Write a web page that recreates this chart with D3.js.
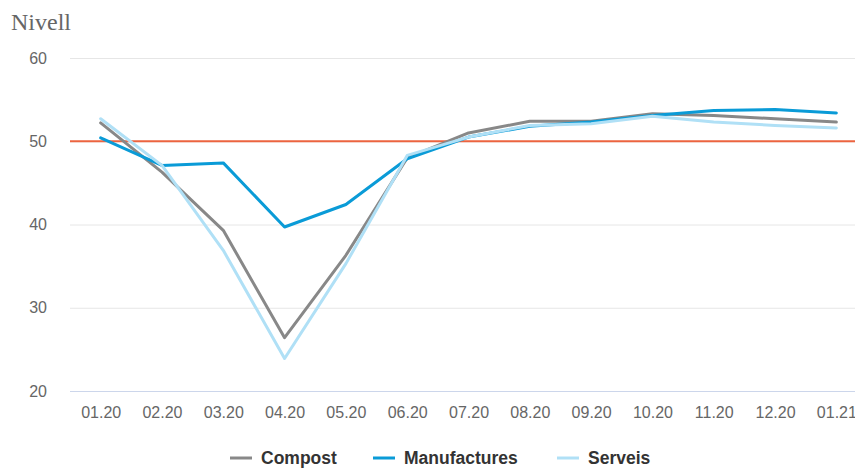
<!DOCTYPE html>
<html>
<head>
<meta charset="utf-8">
<script src="https://cdn.jsdelivr.net/npm/d3@7"></script>
<style>
  html, body { margin: 0; padding: 0; background: #fff; overflow: hidden; }
  svg { display: block; }
</style>
</head>
<body>
<svg id="chart" width="855" height="468"></svg>
<script>
// Monthly index levels (50 = neutral threshold)
const months = ["01.20","02.20","03.20","04.20","05.20","06.20","07.20","08.20","09.20","10.20","11.20","12.20","01.21"];
const compost      = [52.2, 46.3, 39.3, 26.4, 36.3, 48.0, 51.0, 52.4, 52.4, 53.3, 53.1, 52.7, 52.3];
const manufactures = [50.4, 47.1, 47.4, 39.7, 42.4, 47.9, 50.5, 51.8, 52.3, 53.1, 53.7, 53.8, 53.4];
const serveis      = [52.7, 47.1, 36.9, 23.9, 35.3, 48.3, 50.5, 51.9, 52.1, 53.0, 52.3, 51.9, 51.6];
const yTicks = [20, 30, 40, 50, 60];
const threshold = 50;

const seriesList = [
  { name: "Compost",      values: compost,      color: "#888888" },
  { name: "Manufactures", values: manufactures, color: "#0a9bd7" },
  { name: "Serveis",      values: serveis,      color: "#b0e0f6" }
];

const svg = d3.select("#chart");
const plotLeft = 70, plotRight = 867, plotTop = 58, plotBottom = 391;
const sans = "'Liberation Sans', Arial, sans-serif";

const x = d3.scalePoint().domain(months).range([plotLeft, plotRight]).padding(0.5);
const y = d3.scaleLinear().domain([20, 60]).range([plotBottom, plotTop]);

// Title
svg.append("text")
  .attr("x", 11).attr("y", 30)
  .attr("font-family", "'Liberation Serif', 'DejaVu Serif', serif")
  .attr("font-size", 24)
  .attr("fill", "#666")
  .text("Nivell");

// Horizontal grid
svg.append("g").selectAll("line")
  .data(yTicks)
  .join("line")
  .attr("x1", plotLeft).attr("x2", 855)
  .attr("y1", d => y(d) + 0.5).attr("y2", d => y(d) + 0.5)
  .attr("stroke", d => d === 20 ? "#ccd6eb" : "#e6e6e6")
  .attr("stroke-width", 1);

// Y axis labels
const yAxis = svg.append("g")
  .attr("transform", `translate(${47},0)`)
  .call(d3.axisLeft(y).tickValues(yTicks).tickSize(0).tickPadding(0));
yAxis.select(".domain").remove();
yAxis.selectAll("text")
  .attr("font-family", sans)
  .attr("font-size", 16)
  .attr("fill", "#666");

// X axis labels
const xAxis = svg.append("g")
  .attr("transform", `translate(0,${plotBottom})`)
  .call(d3.axisBottom(x).tickSize(0).tickPadding(16));
xAxis.select(".domain").remove();
xAxis.selectAll("text")
  .attr("font-family", sans)
  .attr("font-size", 16)
  .attr("fill", "#666");

// Threshold line at 50
svg.append("line")
  .attr("x1", plotLeft).attr("x2", 855)
  .attr("y1", y(threshold)).attr("y2", y(threshold))
  .attr("stroke", "#ec6440")
  .attr("stroke-width", 2);

// Series lines
const line = d3.line()
  .x((d, i) => x(months[i]))
  .y(d => y(d));

svg.append("g").selectAll("path")
  .data(seriesList)
  .join("path")
  .attr("d", s => line(s.values))
  .attr("fill", "none")
  .attr("stroke", s => s.color)
  .attr("stroke-width", 3)
  .attr("stroke-linejoin", "round")
  .attr("stroke-linecap", "round");

// Legend
const legendPos = [230, 373, 557];
const legend = svg.append("g").selectAll("g")
  .data(seriesList)
  .join("g")
  .attr("transform", (s, i) => `translate(${legendPos[i]},458)`);
legend.append("line")
  .attr("x1", 0).attr("x2", 22)
  .attr("stroke", s => s.color)
  .attr("stroke-width", 3);
legend.append("text")
  .attr("x", 31).attr("dy", "0.35em")
  .attr("font-family", sans)
  .attr("font-size", 17.5)
  .attr("font-weight", "bold")
  .attr("fill", "#333")
  .text(s => s.name);
</script>
</body>
</html>
